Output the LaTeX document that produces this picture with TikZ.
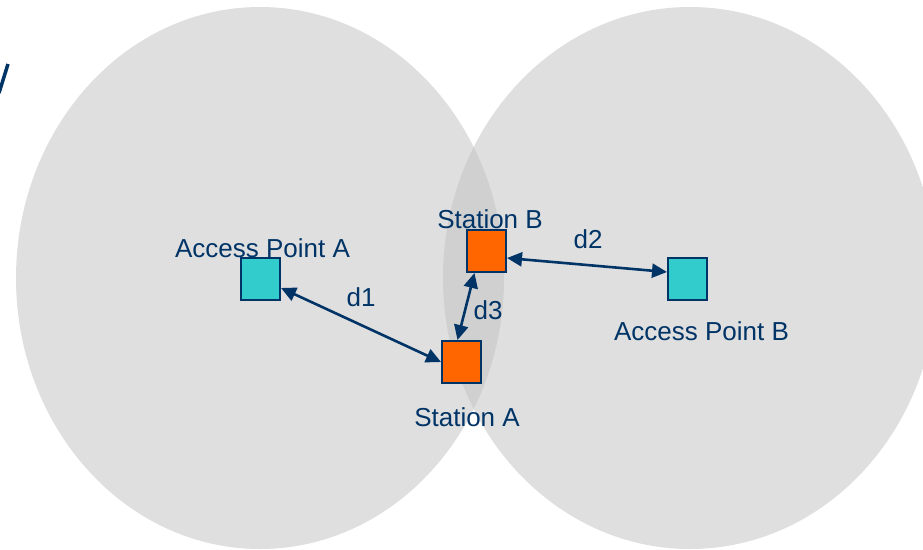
\documentclass[tikz,border=0pt]{standalone}
\usepackage{fontspec}
\setmainfont{Liberation Sans}
\usetikzlibrary{arrows.meta}
\definecolor{navy}{HTML}{003366}
\definecolor{teal}{HTML}{33CCCC}
\definecolor{orng}{HTML}{FF6600}
\definecolor{zone}{HTML}{DFDFDF}
\definecolor{overlap}{HTML}{D0D0D0}
\begin{document}
\begin{tikzpicture}[x=1pt,y=-1pt,
  box/.style={draw=navy,line width=2pt,minimum width=39pt,minimum height=42pt,inner sep=0pt},
  ap/.style={box,fill=teal},
  sta/.style={box,fill=orng},
  lbl/.style={text=navy,font=\fontsize{26}{31}\selectfont,inner sep=0pt,anchor=base},
  link/.style={draw=navy,line width=2.6pt,{Triangle[length=15pt,width=14pt]}-{Triangle[length=15pt,width=14pt]}}]
\useasboundingbox (0,0) rectangle (923,549);
% coverage zones
\fill[zone] (260,278) ellipse [x radius=244pt, y radius=271pt];
\fill[zone] (690,278) ellipse [x radius=247pt, y radius=271pt];
\begin{scope}
  \clip (260,278) ellipse [x radius=244pt, y radius=271pt];
  \fill[overlap] (690,278) ellipse [x radius=247pt, y radius=271pt];
\end{scope}
% cut-off title fragment
\draw[navy,line width=3.5pt] (8,64) -- (-1,93);
% devices
\node[ap]  (apA) at (260.5,278.5) {};
\node[ap]  (apB) at (687.5,278.5) {};
\node[sta] (stA) at (461.5,362) {};
\node[sta] (stB) at (486.5,251) {};
% labels
\node[lbl] (lapA) at (262.5,257) {Access Point A};
\node[lbl] (lapB) at (701.5,340) {Access Point B};
\node[lbl] (lstA) at (467,426) {Station A};
\node[lbl] (lstB) at (490,228) {Station B};
% links
\draw[link] (apA) -- (stA.west);
\draw[link] ([xshift=-4pt]stA.north) -- ([xshift=-12pt]stB.south);
\draw[link] ([yshift=-7pt]stB.east) -- ([yshift=6.5pt]apB.west);
\node[lbl] (d1) at (361,306) {d1};
\node[lbl] (d2) at (588,248) {d2};
\node[lbl] (d3) at (488,319) {d3};
\end{tikzpicture}
\end{document}
